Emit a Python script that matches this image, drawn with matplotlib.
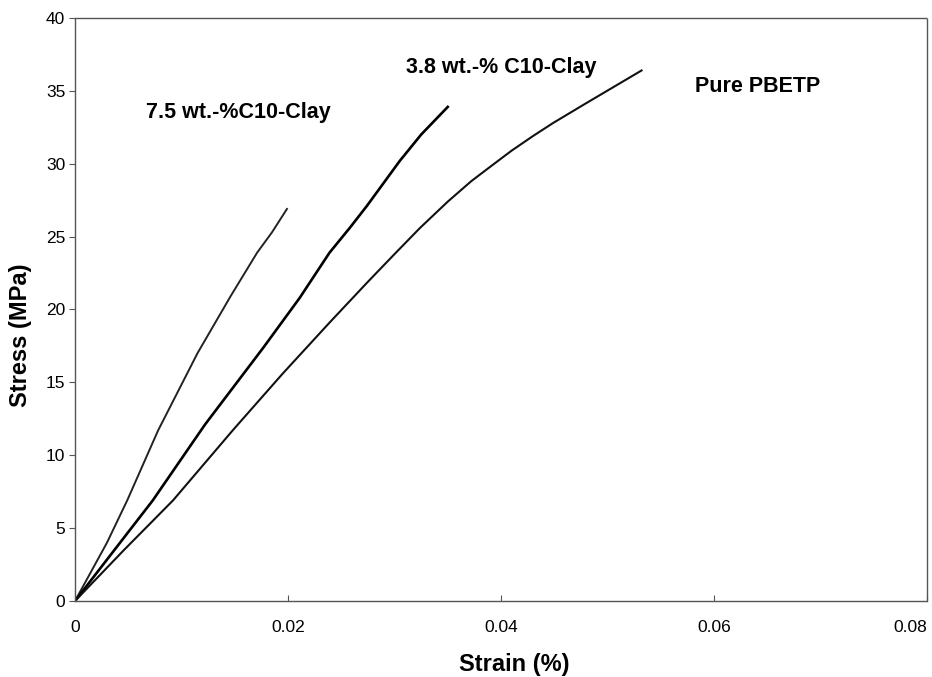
import matplotlib
matplotlib.use('Agg')
import matplotlib.pyplot as plt

# stress-strain curves
strain_75 = [0, 0.0030, 0.0049, 0.0078, 0.0115, 0.0146, 0.0171, 0.0185, 0.0199]
stress_75 = [0, 4.0, 6.9, 11.7, 17.0, 20.9, 23.9, 25.3, 26.9]

strain_38 = [0, 0.0037, 0.0073, 0.0122, 0.0177, 0.0211, 0.0239, 0.0258, 0.0274, 0.0290,
             0.0305, 0.0325, 0.0350]
stress_38 = [0, 3.5, 6.9, 12.1, 17.4, 20.8, 23.9, 25.6, 27.1, 28.7,
             30.2, 32.0, 33.9]

strain_pure = [0, 0.0046, 0.0092, 0.0148, 0.0195, 0.0239, 0.0275, 0.0300, 0.0324, 0.0350,
               0.0372, 0.0390, 0.0410, 0.0430, 0.0449, 0.0481, 0.0532]
stress_pure = [0, 3.5, 6.9, 11.7, 15.6, 19.1, 21.9, 23.8, 25.6, 27.4,
               28.8, 29.8, 30.9, 31.9, 32.8, 34.2, 36.4]

labels = ['7.5 wt.-%C10-Clay', '3.8 wt.-% C10-Clay', 'Pure PBETP']
label_xy = [(0.0153, 33.5), (0.0400, 36.6), (0.0641, 35.3)]

x_ticks = [0, 0.02, 0.04, 0.06, 0.08]
x_ticklabels = ['0', '0.02', '0.04', '0.06', '0.08']
y_ticks = [0, 5, 10, 15, 20, 25, 30, 35, 40]

plt.rcParams['font.family'] = ['Liberation Sans', 'DejaVu Sans']

fig = plt.figure(figsize=(9.32, 6.77), dpi=100)
ax = fig.add_axes([0.0805, 0.1123, 0.9141, 0.8611])

ax.plot(strain_75, stress_75, color='#222222', lw=1.4)
ax.plot(strain_38, stress_38, color='black', lw=1.9)
ax.plot(strain_pure, stress_pure, color='#111111', lw=1.5)

for txt, (x, y) in zip(labels, label_xy):
    ax.text(x, y, txt, ha='center', va='center', fontsize=15.5, fontweight='bold')

ax.set_xlim(0, 0.08)
ax.set_ylim(0, 40)
ax.set_xticks(x_ticks)
ax.set_xticklabels(x_ticklabels)
ax.set_yticks(y_ticks)
ax.tick_params(axis='x', direction='in', length=4, width=0.8, color='#555555',
               labelsize=12.5, pad=14)
ax.tick_params(axis='y', direction='out', length=4, width=0.8, color='#555555',
               labelsize=12.5, pad=3)
# last x label sits flush with the right edge of the figure
ax.get_xticklabels()[-1].set_horizontalalignment('right')

for side in ['left', 'right', 'top', 'bottom']:
    ax.spines[side].set_linestyle((0, (1, 1)))
    ax.spines[side].set_color('#555555')
    ax.spines[side].set_linewidth(1.0)

ax.set_xlabel('Strain (%)', fontsize=17, fontweight='bold')
ax.set_ylabel('Stress (MPa)', fontsize=17, fontweight='bold')
ax.xaxis.set_label_coords(0.515, -0.09)
ax.yaxis.set_label_coords(-0.05, 0.455)

fig.patch.set_facecolor('w')
plt.savefig('out.png', dpi=100)
